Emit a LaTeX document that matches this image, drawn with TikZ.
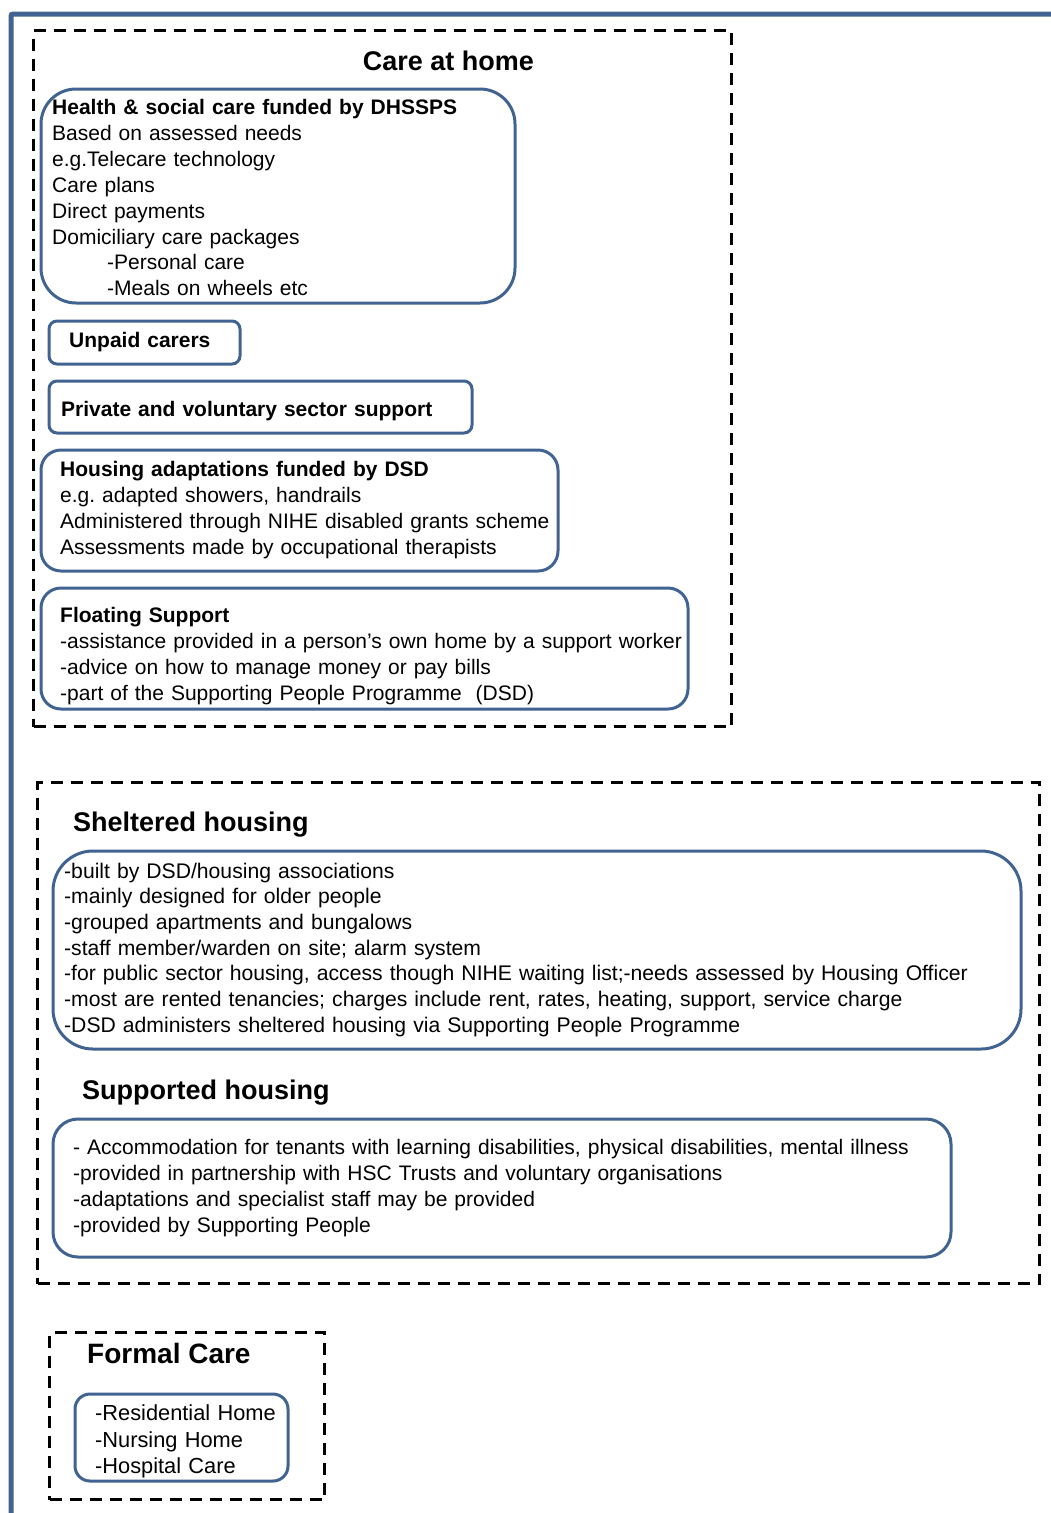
\documentclass[tikz,border=0pt]{standalone}
\usepackage{fontspec}
\setmainfont{Liberation Sans}
\frenchspacing
\definecolor{fb}{RGB}{64,99,145}
\tikzset{
  bluebox/.style={draw=fb, line width=3pt, rounded corners=#1, inner sep=0pt, outer sep=0pt, anchor=north west},
  dashbox/.style={draw=black, line width=3pt, dash pattern=on 12pt off 8pt, inner sep=0pt, outer sep=0pt, anchor=north west},
  body/.style={anchor=base west, inner sep=0pt, align=left, text width=#1, font=\fontsize{21}{25.9}\selectfont},
  head/.style={anchor=base west, inner sep=0pt, font=\fontsize{27}{32}\selectfont\bfseries},
}
\begin{document}
\begin{tikzpicture}[x=1pt, y=-1pt]
\useasboundingbox (0,0) rectangle (1051,1513);
% outer blue frame
\draw[fb, line width=5pt, rounded corners=2pt] (11,1520) -- (11,14) -- (1060,14);

% ---- Care at home ----
\node[dashbox, minimum width=698pt, minimum height=696pt] (home) at (33.5,30.5) {};
\node[head, anchor=base] (homet) at (448.5,70) {Care at home};

\node[bluebox=35pt, minimum width=474pt, minimum height=214pt] (hsc) at (41,89) {};
\node[body=460pt] (hsct) at (52,114.5) {\textbf{Health \& social care funded by DHSSPS}\\
Based on assessed needs\\
e.g.Telecare technology\\
Care plans\\
Direct payments\\
Domiciliary care packages\\
\hspace*{55pt}-Personal care\\
\hspace*{55pt}-Meals on wheels etc};

\node[bluebox=8pt, minimum width=191pt, minimum height=43pt] (unp) at (49,321) {};
\node[body=180pt] (unpt) at (69,347.5) {\textbf{Unpaid carers}};

\node[bluebox=8pt, minimum width=423pt, minimum height=52pt] (pvs) at (49,381) {};
\node[body=420pt] (pvst) at (61,416.5) {\textbf{Private and voluntary sector support}};

\node[bluebox=20pt, minimum width=517pt, minimum height=121pt] (had) at (41,450) {};
\node[body=510pt] (hadt) at (60,476.5) {\textbf{Housing adaptations funded by DSD}\\
e.g. adapted showers, handrails\\
Administered through NIHE disabled grants scheme\\
Assessments made by occupational therapists};

\node[bluebox=20pt, minimum width=647pt, minimum height=121pt] (flo) at (41,588) {};
\node[body=640pt] (flot) at (60,622.5) {\textbf{Floating Support}\\
-assistance provided in a person’s own home by a support worker\\
-advice on how to manage money or pay bills\\
-part of the Supporting People Programme~ (DSD)};

% ---- Sheltered / supported housing ----
\node[dashbox, minimum width=1002pt, minimum height=501pt] (shel) at (37.5,782.5) {};
\node[head] (shelt) at (73,831) {Sheltered housing};

\node[bluebox=40pt, minimum width=968pt, minimum height=198pt] (shb) at (53,851) {};
\node[body=960pt, font=\fontsize{21.15}{25.7}\selectfont] (shbt) at (64,878) {-built by DSD/housing associations\\
-mainly designed for older people\\
-grouped apartments and bungalows\\
-staff member/warden on site; alarm system\\
-for public sector housing, access though NIHE waiting list;-needs assessed by Housing Officer\\
-most are rented tenancies; charges include rent, rates, heating, support, service charge\\
-DSD administers sheltered housing via Supporting People Programme};

\node[head] (supt) at (82,1099) {Supported housing};

\node[bluebox=25pt, minimum width=898pt, minimum height=138pt] (sub) at (53,1119) {};
\node[body=880pt] (subt) at (73,1154.5) {- Accommodation for tenants with learning disabilities, physical disabilities, mental illness\\
-provided in partnership with HSC Trusts and voluntary organisations\\
-adaptations and specialist staff may be provided\\
-provided by Supporting People};

% ---- Formal care ----
\node[dashbox, minimum width=275pt, minimum height=167pt] (form) at (49.5,1332.5) {};
\node[head, font=\fontsize{28}{33}\selectfont\bfseries] (formt) at (87,1363) {Formal Care};

\node[bluebox=15pt, minimum width=213pt, minimum height=87pt] (fob) at (75,1394) {};
\node[body=200pt, font=\fontsize{21.8}{26.5}\selectfont] (fobt) at (95,1420.5) {-Residential Home\\
-Nursing Home\\
-Hospital Care};
\end{tikzpicture}
\end{document}
